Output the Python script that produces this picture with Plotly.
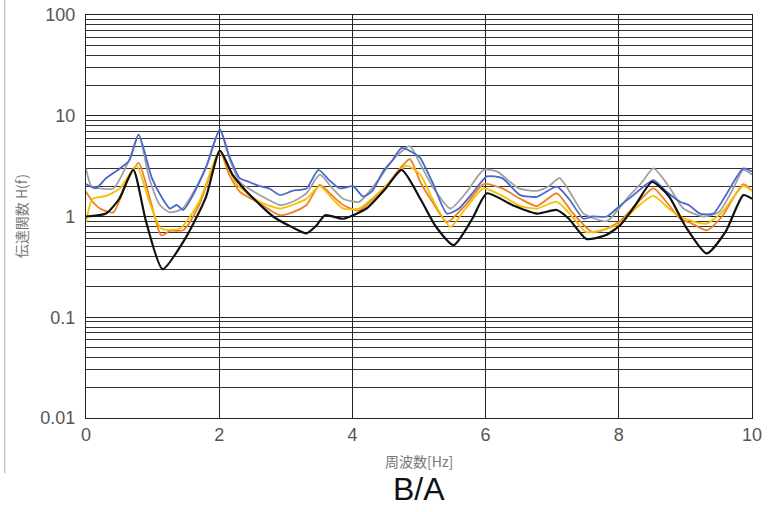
import plotly.graph_objects as go

# Frequency [Hz] and transfer function values per series
black_f = [0, 0.3, 0.5, 0.71, 0.9, 1.15, 1.5, 1.8, 2.01, 2.2, 2.41, 2.81, 3.1, 3.31, 3.45, 3.59, 3.86, 4.21, 4.5, 4.74, 5.02, 5.25, 5.52, 5.8, 6.02, 6.4, 6.77, 7.07, 7.25, 7.51, 7.8, 8.02, 8.25, 8.5, 8.75, 9.0, 9.32, 9.6, 9.87, 10]
black_v = [1.0, 1.07, 1.5, 2.9, 0.9, 0.30, 0.62, 1.55, 4.5, 2.6, 1.77, 1.0, 0.78, 0.68, 0.8, 1.03, 0.95, 1.2, 1.9, 2.9, 1.5, 0.8, 0.52, 0.95, 1.7, 1.3, 1.07, 1.16, 0.95, 0.6, 0.65, 0.82, 1.3, 2.2, 1.6, 0.8, 0.43, 0.7, 1.63, 1.5]

blue_f = [0, 0.15, 0.3, 0.51, 0.65, 0.79, 0.99, 1.15, 1.26, 1.36, 1.46, 1.6, 1.81, 2.01, 2.15, 2.31, 2.45, 2.61, 2.75, 2.91, 3.1, 3.31, 3.49, 3.65, 3.81, 4.01, 4.16, 4.3, 4.46, 4.6, 4.74, 4.96, 5.02, 5.2, 5.42, 5.6, 5.82, 6.02, 6.25, 6.52, 6.77, 7.07, 7.25, 7.47, 7.6, 7.82, 8.0, 8.22, 8.52, 8.7, 8.92, 9.05, 9.22, 9.42, 9.6, 9.87, 10]
blue_v = [2.1, 1.9, 2.4, 3.0, 3.6, 6.5, 2.4, 1.5, 1.2, 1.3, 1.16, 1.6, 3.2, 7.3, 4.0, 2.4, 2.2, 2.0, 1.9, 1.63, 1.8, 1.9, 2.9, 2.3, 1.9, 2.0, 1.58, 1.8, 2.8, 3.6, 4.8, 4.1, 3.8, 2.2, 1.07, 1.2, 1.76, 2.5, 2.4, 1.63, 1.57, 1.98, 1.5, 0.95, 1.0, 1.0, 1.25, 1.63, 2.3, 1.8, 1.4, 1.3, 1.07, 1.07, 1.6, 3.0, 2.8]

gray_f = [0, 0.08, 0.2, 0.41, 0.66, 0.79, 0.95, 1.11, 1.26, 1.45, 1.8, 2.01, 2.15, 2.31, 2.5, 2.71, 2.91, 3.1, 3.31, 3.51, 3.7, 3.86, 4.1, 4.41, 4.6, 4.86, 5.02, 5.2, 5.47, 5.7, 5.97, 6.17, 6.5, 6.77, 6.95, 7.11, 7.3, 7.47, 7.82, 8.12, 8.35, 8.52, 8.75, 8.97, 9.27, 9.5, 9.7, 9.87, 10]
gray_v = [3.0, 2.0, 1.9, 1.9, 3.8, 6.5, 2.4, 1.3, 1.1, 1.2, 3.0, 7.3, 3.8, 2.2, 1.8, 1.5, 1.3, 1.4, 1.7, 2.6, 1.9, 1.5, 1.4, 2.4, 3.6, 5.0, 3.3, 2.0, 1.2, 1.7, 2.9, 2.8, 1.9, 1.8, 2.0, 2.4, 1.6, 1.07, 0.9, 1.5, 2.2, 3.0, 2.0, 1.2, 1.0, 1.1, 1.8, 2.9, 2.6]

orange_f = [0, 0.1, 0.21, 0.41, 0.61, 0.79, 0.96, 1.13, 1.26, 1.46, 1.7, 2.01, 2.15, 2.31, 2.61, 2.91, 3.1, 3.31, 3.51, 3.7, 3.86, 4.1, 4.5, 4.86, 5.02, 5.2, 5.42, 5.7, 5.97, 6.25, 6.52, 6.77, 7.07, 7.3, 7.6, 7.8, 8.02, 8.25, 8.52, 8.75, 8.92, 9.1, 9.32, 9.55, 9.87, 10]
orange_v = [1.76, 1.4, 1.2, 1.1, 2.2, 3.4, 1.5, 0.65, 0.72, 0.73, 1.3, 4.4, 2.6, 1.76, 1.35, 1.03, 1.1, 1.3, 2.06, 1.6, 1.3, 1.15, 2.0, 3.7, 2.2, 1.4, 0.88, 1.3, 2.1, 1.9, 1.5, 1.27, 1.7, 1.1, 0.7, 0.75, 0.9, 1.3, 1.9, 1.3, 0.95, 0.85, 0.73, 1.0, 2.1, 1.8]

yellow_f = [0, 0.1, 0.3, 0.51, 0.76, 0.95, 1.13, 1.41, 1.7, 2.01, 2.26, 2.61, 2.91, 3.1, 3.31, 3.51, 3.7, 3.86, 4.1, 4.5, 4.81, 5.02, 5.2, 5.47, 5.7, 5.97, 6.25, 6.52, 6.77, 7.07, 7.3, 7.51, 7.8, 8.02, 8.25, 8.52, 8.75, 8.92, 9.1, 9.32, 9.55, 9.87, 10]
yellow_v = [0.88, 1.5, 1.6, 1.9, 3.2, 1.4, 0.76, 0.76, 1.4, 4.4, 2.1, 1.4, 1.2, 1.3, 1.5, 2.0, 1.5, 1.2, 1.2, 2.0, 3.2, 2.6, 1.5, 0.79, 1.2, 1.9, 1.6, 1.27, 1.2, 1.4, 1.0, 0.7, 0.75, 0.85, 1.2, 1.6, 1.2, 1.0, 0.9, 0.85, 1.1, 2.0, 1.8]

x_ticks = [0, 2, 4, 6, 8, 10]
y_ticks = [0.01, 0.1, 1, 10, 100]
y_tick_text = ["0.01", "0.1", "1", "10", "100"]
y_minor = [m * d for d in [0.01, 0.1, 1, 10] for m in range(2, 10)]

fig = go.Figure()
series = [
    (gray_f, gray_v, "#a0a0a0", "gray"),
    (blue_f, blue_v, "#4a68cc", "blue"),
    (orange_f, orange_v, "#f08020", "orange"),
    (yellow_f, yellow_v, "#f5c000", "yellow"),
    (black_f, black_v, "#111111", "black"),
]
for f, v, c, n in series:
    fig.add_trace(go.Scatter(
        x=f, y=v, mode="lines", name=n,
        line=dict(color=c, width=2.2 if n == "black" else 1.8, shape="spline", smoothing=0.6),
        showlegend=False,
    ))

tick_font = dict(size=18, color="#555", family="Liberation Sans, Arial, sans-serif")

fig.update_layout(
    width=768, height=512,
    margin=dict(l=86, r=16, t=15, b=94),
    paper_bgcolor="white", plot_bgcolor="white",
    font=dict(family="Liberation Sans, sans-serif", color="#555"),
    annotations=[
        dict(text="B/A", x=0.5, xref="paper", y=-0.175, yref="paper", yanchor="middle",
             showarrow=False, font=dict(size=32, color="#111", family="Liberation Sans, sans-serif")),
        dict(text="伝達関数 H(f)", x=-0.098, xref="paper", y=0.5, yref="paper", textangle=-90,
             xanchor="center", yanchor="middle", showarrow=False,
             font=dict(size=14, color="#777", family="Noto Sans CJK JP")),
        dict(text="周波数[Hz]", x=0.5, xref="paper", y=-0.106, yref="paper", yanchor="middle",
             showarrow=False, font=dict(size=14, color="#777", family="Noto Sans CJK JP")),
    ],
    shapes=[
        dict(type="line", xref="paper", yref="paper", x0=-0.122, x1=-0.122, y0=-0.137, y1=1.04,
             line=dict(color="#c8c8c8", width=1.5)),
    ],
)
fig.update_xaxes(
    range=[0, 10], tickvals=x_ticks, ticktext=[str(t) for t in x_ticks],
    showgrid=True, gridcolor="#222", gridwidth=1,
    showline=True, linecolor="#222", linewidth=1.2, mirror=True,
    ticks="", zeroline=False, automargin=False,
    tickfont=tick_font,
)
fig.update_yaxes(
    type="log", range=[-2, 2], tickvals=y_ticks, ticktext=y_tick_text,
    showgrid=True, gridcolor="#222", gridwidth=1,
    minor=dict(tickvals=y_minor, showgrid=True, gridcolor="#333", gridwidth=1, ticks=""),
    showline=True, linecolor="#222", linewidth=1.2, mirror=True,
    ticks="", zeroline=False, automargin=False,
    tickfont=tick_font, ticklabelstandoff=6,
)

fig.write_html(
    "out.html",
    config={"displayModeBar": False},
    post_script="document.body.style.margin='0';document.documentElement.style.overflow='hidden';",
)
